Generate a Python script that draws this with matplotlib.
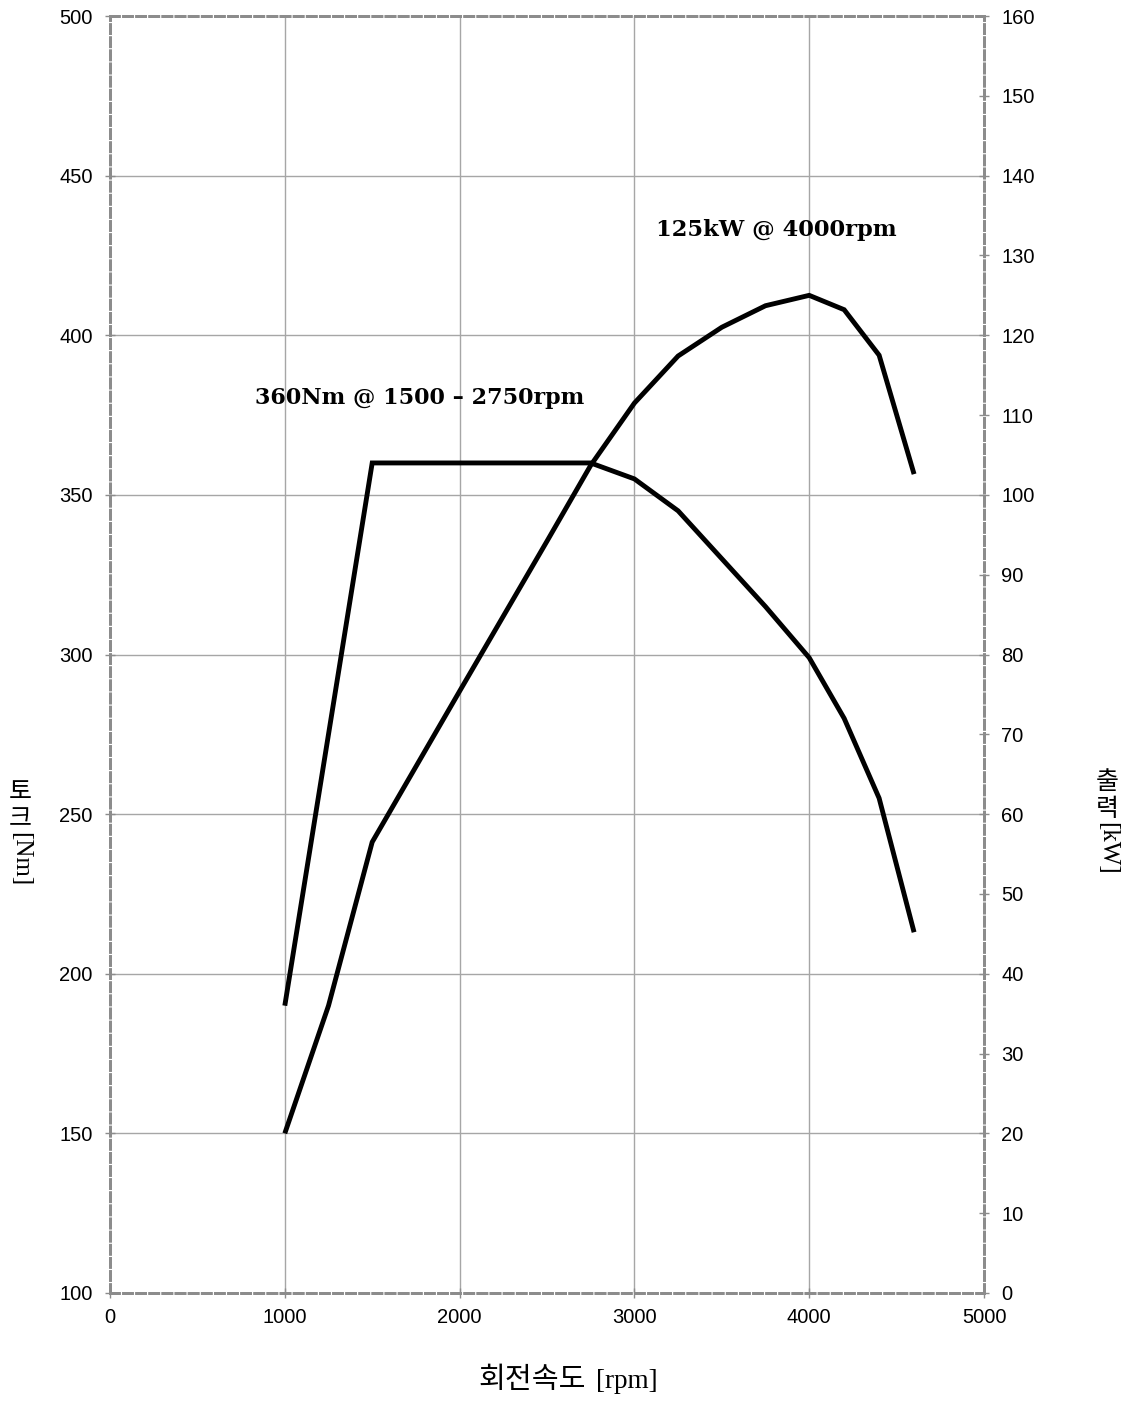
import matplotlib.pyplot as plt
import matplotlib as mpl

mpl.rcParams["font.family"] = ["Liberation Sans", "DejaVu Sans"]

# engine curve
rpm_torque = [1000, 1500, 2750, 3000, 3250, 3500, 3750, 4000, 4200, 4400, 4600]
torque_nm = [190, 360, 360, 355, 345, 330, 315, 299, 280, 255, 213]

rpm_power = [1000, 1250, 1500, 2000, 2500, 2750, 3000, 3250, 3500, 3750, 4000, 4200, 4400, 4600]
power_kw = [20, 36, 56.5, 75.4, 94.2, 103.7, 111.5, 117.4, 121, 123.7, 125, 123.2, 117.5, 102.6]

x_ticks = [0, 1000, 2000, 3000, 4000, 5000]
torque_ticks = list(range(100, 501, 50))
power_ticks = list(range(0, 161, 10))

W, H = 1132, 1401
fig = plt.figure(figsize=(W / 100, H / 100), dpi=100)
ax = fig.add_axes([110 / W, 1 - 1293 / H, (984 - 110) / W, (1293 - 16) / H])
ax2 = ax.twinx()

grid_c = "#a6a6a6"
spine_c = "#8c8c8c"

ax.plot(rpm_torque, torque_nm, color="black", lw=3.5, solid_joinstyle="miter",
        solid_capstyle="butt", zorder=3)
ax2.plot(rpm_power, power_kw, color="black", lw=3.5, solid_joinstyle="miter",
         solid_capstyle="butt", zorder=3)

ax.set_xlim(0, 5000)
ax.set_ylim(100, 500)
ax2.set_ylim(0, 160)
ax.set_xticks(x_ticks)
ax.set_yticks(torque_ticks)
ax2.set_yticks(power_ticks)

ax.grid(True, color=grid_c, lw=1.0)
ax.set_axisbelow(True)
# no grid lines on the frame itself, the dashed spines show there
for gl in (ax.get_xgridlines()[0], ax.get_xgridlines()[-1],
           ax.get_ygridlines()[0], ax.get_ygridlines()[-1]):
    gl.set_visible(False)

for a in (ax, ax2):
    for s in a.spines.values():
        s.set_linestyle((0, (3.0, 1.5)))
        s.set_color(spine_c)
        s.set_linewidth(2.1)
    a.tick_params(direction="inout", length=7, width=1, color=spine_c,
                  labelsize=14.5, labelcolor="black", pad=9)
ax.tick_params(axis="x", pad=7)

# annotations
ax.text(830, 380.5, "360Nm @ 1500 – 2750rpm", family="DejaVu Serif",
        fontweight="bold", fontsize=16, va="center", ha="left")
ax.text(3124, 433, "125kW @ 4000rpm", family="DejaVu Serif",
        fontweight="bold", fontsize=16.3, va="center", ha="left")

# x label: korean sans + serif unit
kr = ["Noto Sans CJK KR", "DejaVu Sans"]
fig.text(586 / W, 1 - 1388 / H, "회전속도", family=kr, fontsize=21,
         ha="right", va="baseline")
fig.text(596 / W, 1 - 1388 / H, "[rpm]", family="Liberation Serif",
         fontsize=19.5, ha="left", va="baseline")

# vertical style y labels: hangul upright, unit rotated
def vlabel(xc, y0, chars, unit):
    y = y0
    for ch in chars:
        fig.text(xc / W, 1 - y / H, ch, family=kr, fontsize=18,
                 fontweight="medium", ha="center", va="center")
        y += 27
    fig.text(xc / W, 1 - (y - 14) / H, unit, family="Liberation Serif",
             fontsize=18, rotation=-90, ha="center", va="top")

vlabel(20, 792, "토크", "[Nm]")
vlabel(1107, 782, "출력", "[kW]")

fig.savefig("out.png", dpi=100)
